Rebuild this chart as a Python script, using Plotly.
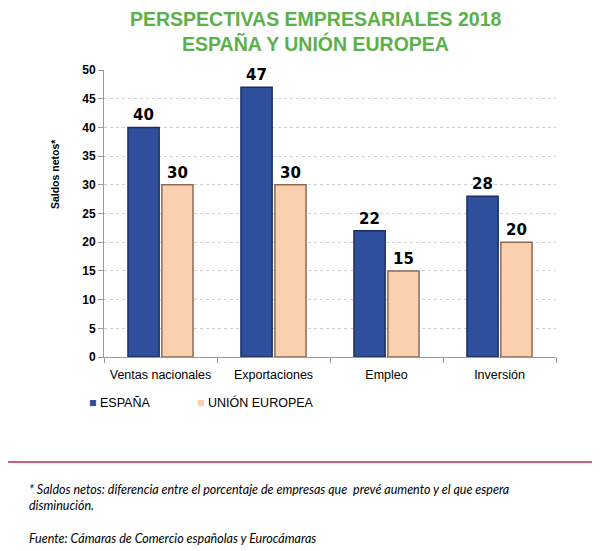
import plotly.graph_objects as go

categories = ["Ventas nacionales", "Exportaciones", "Empleo", "Inversión"]
espana = [40, 47, 22, 28]
union_europea = [30, 30, 15, 20]
y_ticks = [0, 5, 10, 15, 20, 25, 30, 35, 40, 45, 50]

sans = "Liberation Sans, Arial"
blue = "#2F4F9C"
peach = "#FAD0B0"
label_font = dict(family="DejaVu Sans", size=15, color="black", weight="bold")

fig = go.Figure()
fig.add_trace(go.Bar(
    x=categories, y=espana, name="ESPAÑA", showlegend=False,
    marker=dict(color=blue, line=dict(color="#1A2F66", width=1.5)),
    text=espana, textposition="outside", cliponaxis=False, textfont=label_font,
))
fig.add_trace(go.Bar(
    x=categories, y=union_europea, name="UNIÓN EUROPEA", showlegend=False,
    marker=dict(color=peach, line=dict(color="#8A6A55", width=1.5)),
    text=union_europea, textposition="outside", cliponaxis=False, textfont=label_font,
))

# page body has an 8px margin, so the figure is 8px smaller than the window
fig.update_layout(
    width=592, height=543,
    paper_bgcolor="white", plot_bgcolor="white",
    margin=dict(l=96, r=44, t=62, b=194),
    barmode="group", bargap=0.4, bargroupgap=0.08,
    font=dict(family=sans, color="black"),
)
fig.update_xaxes(
    showline=True, linecolor="#9A9A9A", linewidth=1,
    ticks="outside", tickson="boundaries", tickcolor="#9A9A9A", ticklen=5,
    tickangle=0, ticklabelstandoff=6,
    tickfont=dict(family=sans, size=12.5, color="black"),
)
fig.update_yaxes(
    range=[0, 50], tickvals=y_ticks,
    showline=True, linecolor="#9A9A9A", linewidth=1,
    ticks="outside", tickcolor="#9A9A9A", ticklen=5,
    showgrid=True, gridcolor="#D0D0D0", griddash="dot", zeroline=False,
    tickfont=dict(family=sans, size=12, color="black", weight="bold"),
)

title_font = dict(family=sans, size=19.5, color="#5BB04A", weight="bold")
fig.add_annotation(text="PERSPECTIVAS EMPRESARIALES 2018", xref="paper", yref="paper",
                   x=0.467, y=1.178, xanchor="center", yanchor="middle",
                   showarrow=False, font=title_font)
fig.add_annotation(text="ESPAÑA Y UNIÓN EUROPEA", xref="paper", yref="paper",
                   x=0.467, y=1.091, xanchor="center", yanchor="middle",
                   showarrow=False, font=title_font)

fig.add_annotation(text="Saldos netos*", xref="paper", yref="paper",
                   x=-0.108, y=0.638, xanchor="center", yanchor="middle",
                   textangle=-90, showarrow=False,
                   font=dict(family=sans, size=10.5, color="black", weight="bold"))

# legend
legend_font = dict(family=sans, size=12.5, color="black")
for name, color, lx in [("ESPAÑA", blue, -0.038), ("UNIÓN EUROPEA", peach, 0.201)]:
    fig.add_annotation(
        text=f"<span style='color:{color}'>■</span> {name}",
        xref="paper", yref="paper", x=lx, y=-0.160, xanchor="left", yanchor="middle",
        showarrow=False, font=legend_font,
    )

fig.add_shape(type="line", xref="paper", yref="paper",
              x0=-0.219, x1=1.086, y0=-0.366, y1=-0.366,
              line=dict(color="#C8284A", width=1.5))

note_font = dict(family="Lato, Open Sans", size=12.5, color="black")
fig.add_annotation(
    text="<i>* Saldos netos: diferencia entre el porcentaje de empresas que  prevé aumento y el que espera<br>disminución.</i>",
    xref="paper", yref="paper", x=-0.17, y=-0.43, xanchor="left", yanchor="top",
    align="left", showarrow=False, font=note_font,
)
fig.add_annotation(
    text="<i>Fuente: Cámaras de Comercio españolas y Eurocámaras</i>",
    xref="paper", yref="paper", x=-0.17, y=-0.60, xanchor="left", yanchor="top",
    align="left", showarrow=False, font=note_font,
)

fig.write_html("out.html")
